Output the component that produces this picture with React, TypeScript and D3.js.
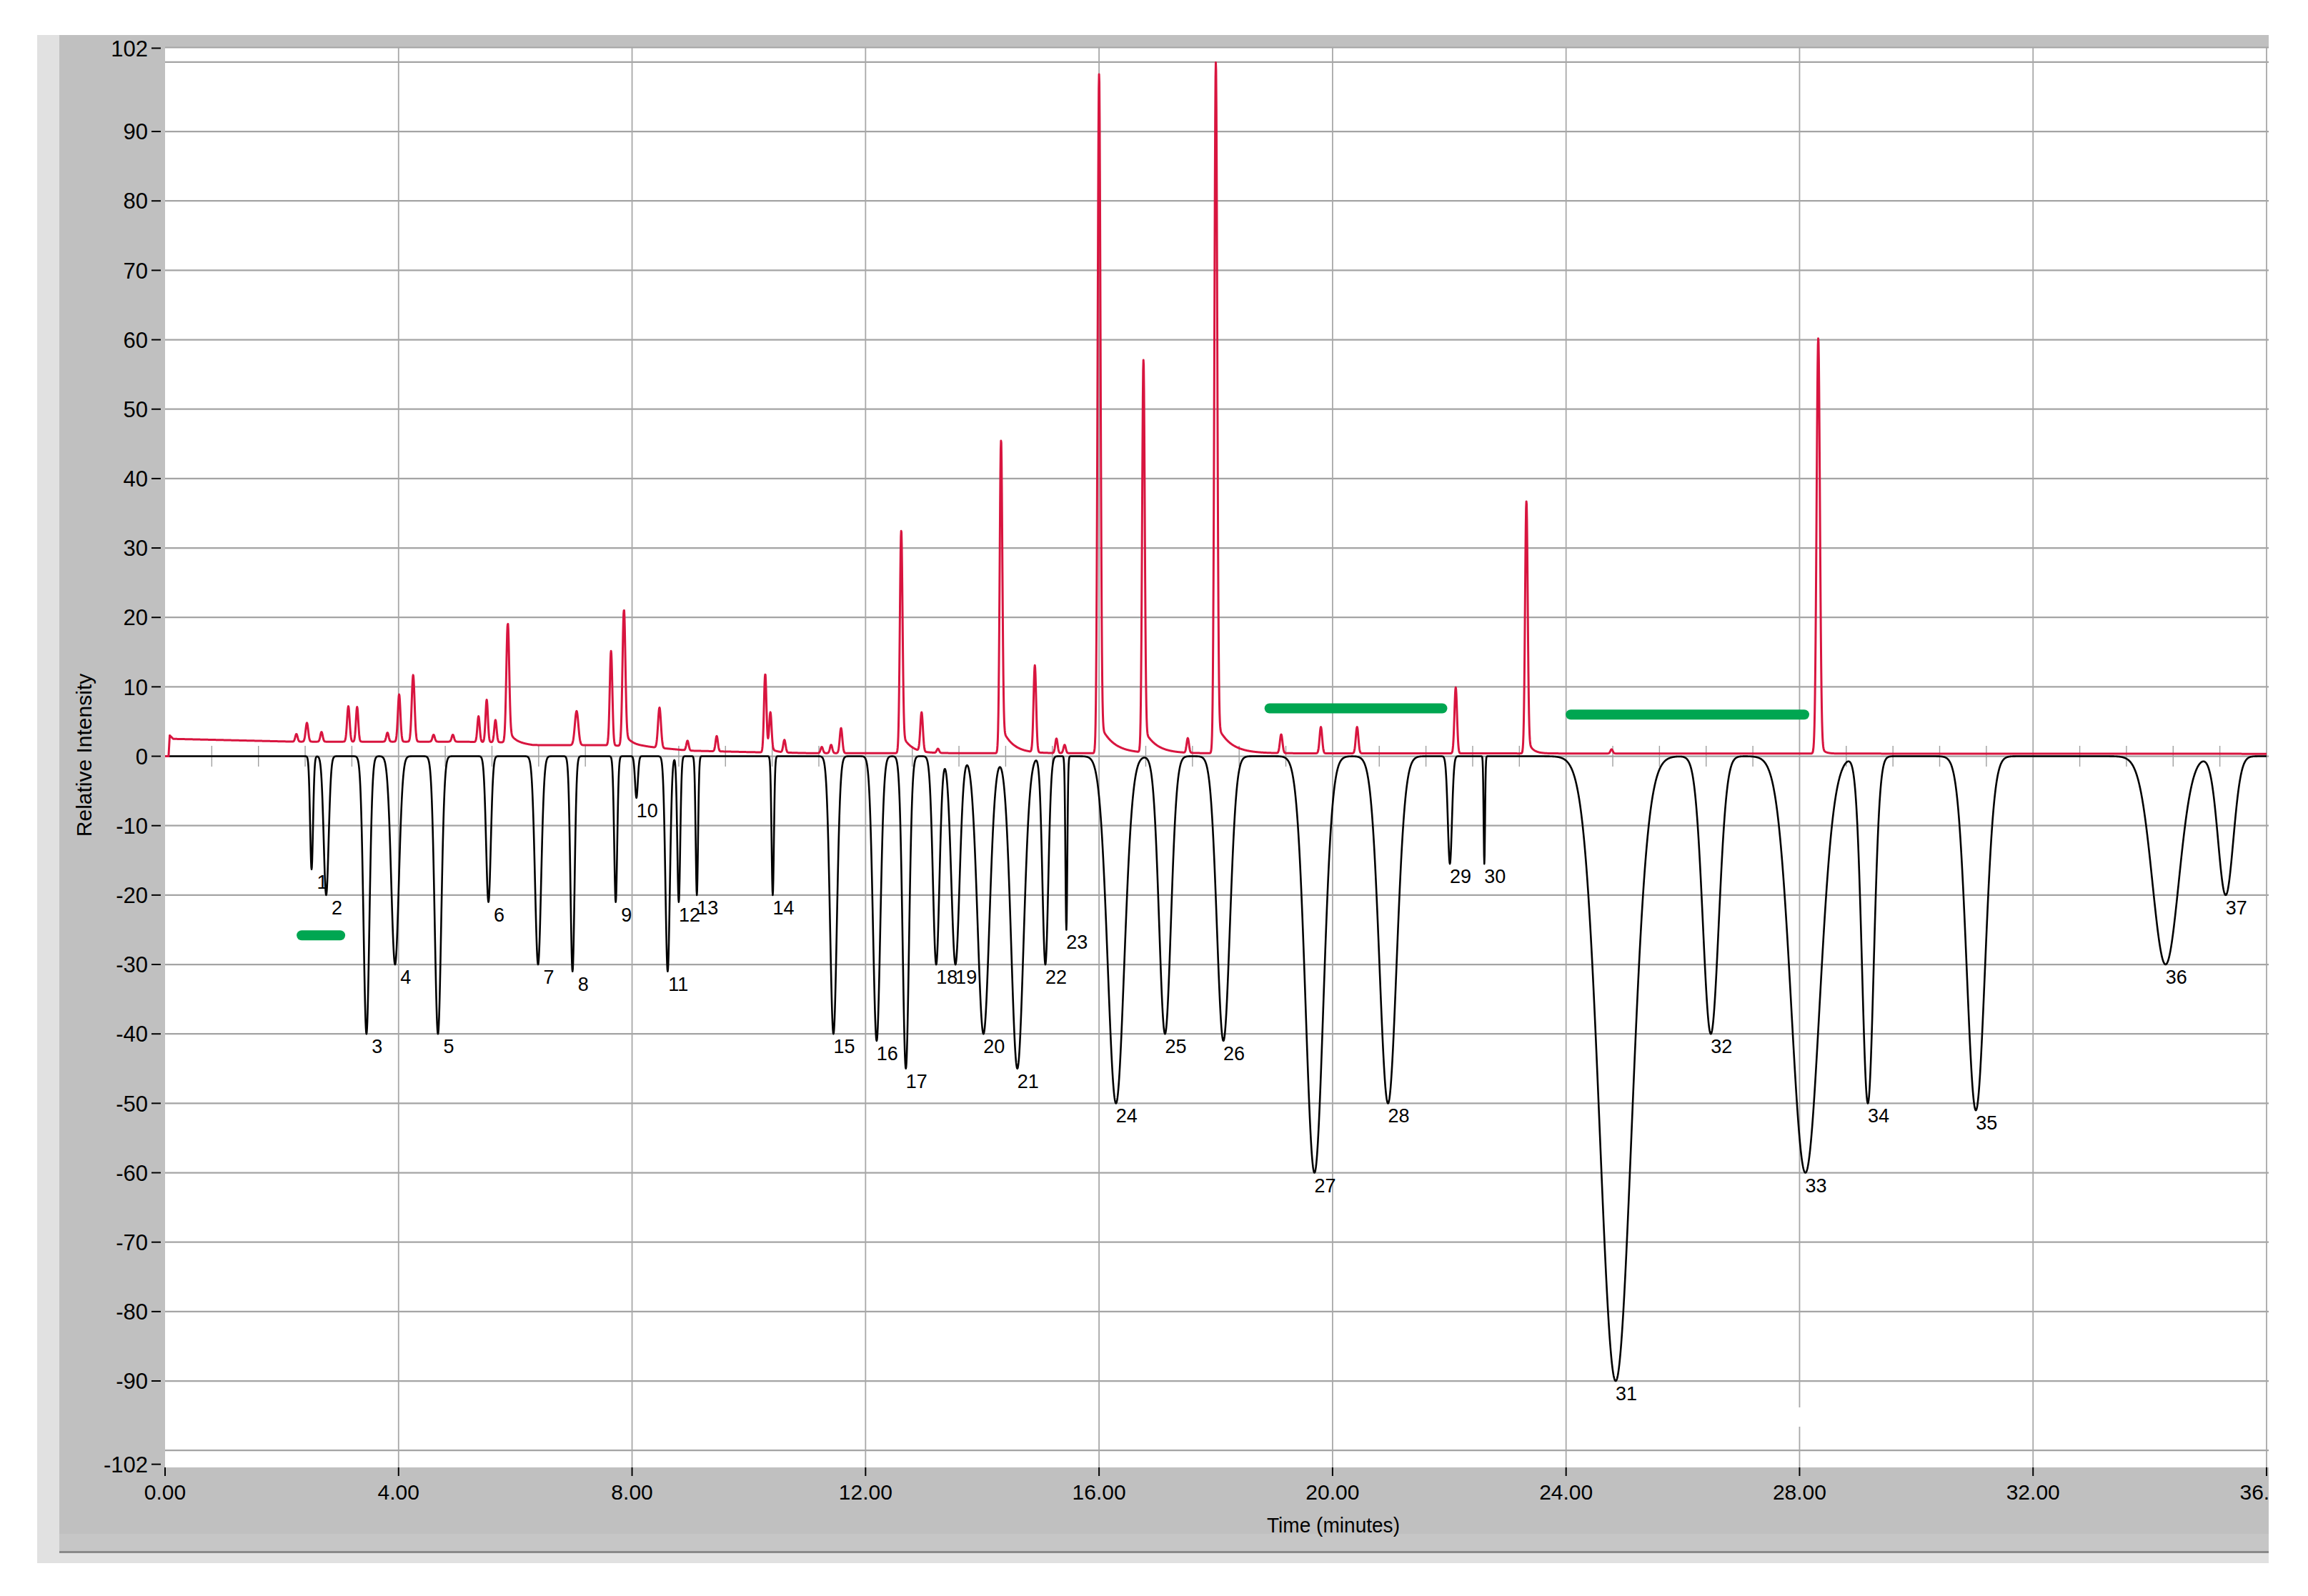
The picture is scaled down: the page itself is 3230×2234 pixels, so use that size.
import * as d3 from 'd3';

// numbered peaks of the lower (black) trace
const peakLabels = ['1', '2', '3', '4', '5', '6', '7', '8', '9', '10', '11', '12', '13', '14', '15', '16', '17', '18', '19',
  '20', '21', '22', '23', '24', '25', '26', '27', '28', '29', '30', '31', '32', '33', '34', '35', '36', '37'];
const peakTimes = [2.51, 2.76, 3.45, 3.94, 4.675, 5.54, 6.39, 6.98, 7.72, 8.075, 8.61, 8.8, 9.11, 10.41, 11.45, 12.19, 12.69,
  13.21, 13.54, 14.02, 14.6, 15.08, 15.44, 16.29, 17.13, 18.13, 19.69, 20.95, 22.01, 22.6, 24.85, 26.48, 28.1, 29.17, 31.02,
  34.27, 35.3];
const peakDepths = [16.3, 20, 40, 30, 40, 21, 30, 31, 21, 6, 31, 21, 20, 20, 40, 41, 45, 30, 30, 40, 45, 30, 25, 50, 40, 41,
  60, 50, 15.5, 15.5, 90, 40, 60, 50, 51, 30, 20];
const peakWidths = [0.025, 0.042, 0.05, 0.065, 0.055, 0.04, 0.052, 0.035, 0.026, 0.024, 0.038, 0.025, 0.02, 0.02, 0.058,
  0.062, 0.054, 0.055, 0.07, 0.1, 0.105, 0.05, 0.016, 0.14, 0.1, 0.11, 0.15, 0.145, 0.035, 0.012, 0.27, 0.135, 0.24, 0.1,
  0.155, 0.225, 0.13];

// upper (red) trace: peaks above its baseline
const redTimes = [2.25, 2.43, 2.68, 3.14, 3.29, 3.81, 4.01, 4.25, 4.6, 4.93, 5.37, 5.51, 5.66, 5.87, 7.05, 7.64, 7.86, 8.47,
  8.95, 9.45, 10.28, 10.37, 10.61, 11.25, 11.41, 11.58, 12.61, 12.96, 13.24, 14.32, 14.9, 15.27, 15.41, 16.0, 16.76, 17.52,
  18.0, 19.12, 19.8, 20.42, 22.11, 23.32, 24.78, 28.32];
const redHeights = [1.1, 2.7, 1.4, 5.1, 5.0, 1.3, 6.8, 9.6, 1.0, 1.0, 3.7, 6.1, 3.2, 17, 4.9, 13.6, 19.5, 5.8, 1.4, 2.2, 11.2,
  5.2, 1.8, 0.9, 1.2, 3.6, 32, 5.6, 0.6, 45, 12.5, 2.1, 1.2, 97.8, 56.5, 2.1, 99.5, 2.7, 3.8, 3.8, 9.5, 36.3, 0.6, 59.8];
const redWidths = [0.02, 0.022, 0.02, 0.022, 0.02, 0.02, 0.022, 0.024, 0.02, 0.02, 0.02, 0.02, 0.02, 0.024, 0.03, 0.022,
  0.024, 0.025, 0.02, 0.02, 0.02, 0.02, 0.02, 0.02, 0.02, 0.022, 0.022, 0.022, 0.02, 0.022, 0.022, 0.02, 0.02, 0.024, 0.022,
  0.02, 0.024, 0.022, 0.022, 0.022, 0.022, 0.022, 0.02, 0.028];
// tailing after the bigger red peaks
const tailTimes = [5.87, 7.86, 10.28, 12.61, 14.32, 16.0, 16.76, 18.0, 23.32, 28.32];
const tailHeights = [2, 2, 1.5, 3, 4, 4.5, 3.5, 4.5, 2.5, 2];
const tailDecays = [0.1, 0.12, 0.1, 0.15, 0.18, 0.22, 0.2, 0.22, 0.08, 0.06];
// red baseline level
const baseTimes = [0, 0.06, 0.08, 0.14, 2.2, 5.0, 5.9, 6.3, 7.5, 8.2, 9.0, 10.0, 11.0, 24.0, 36];
const baseValues = [0, 0, 3.0, 2.5, 2.1, 2.1, 2.0, 1.6, 1.6, 1.4, 0.8, 0.6, 0.45, 0.4, 0.35];

// green marker bars
const barStarts = [2.34, 18.92, 24.08];
const barEnds = [3.0, 21.88, 28.08];
const barLevels = [-25.8, 6.9, 6.0];

// axes
const yTickValues = [102, 90, 80, 70, 60, 50, 40, 30, 20, 10, 0, -10, -20, -30, -40, -50, -60, -70, -80, -90, -102];
const yGridValues = [100, 90, 80, 70, 60, 50, 40, 30, 20, 10, 0, -10, -20, -30, -40, -50, -60, -70, -80, -90, -100];
const xTickValues = [0, 4, 8, 12, 16, 20, 24, 28, 32, 36];

const FONT = 'Liberation Sans, Arial, sans-serif';

const App = () => {
  const x = d3.scaleLinear().domain([0, 36]).range([231, 3172]);
  const y = d3.scaleLinear().domain([-102.45, 102.15]).range([2054, 66]);
  const base = d3.scaleLinear().domain(baseTimes).range(baseValues).clamp(true);

  const gauss = (t, c, s) => Math.exp(-0.5 * ((t - c) / s) ** 2);

  // sample grid, apexes included so the tips are hit exactly
  const times = Array.from(new Set([
    ...d3.range(0, 36.0001, 0.005).map((v) => +v.toFixed(3)),
    ...peakTimes, ...redTimes,
  ])).sort((a, b) => a - b);

  const blackData = times.map((t) => {
    let v = 0;
    peakTimes.forEach((c, i) => { v -= peakDepths[i] * gauss(t, c, peakWidths[i]); });
    return [t, v];
  });

  const redData = times.map((t) => {
    let v = base(t);
    redTimes.forEach((c, i) => { v += redHeights[i] * gauss(t, c, redWidths[i]); });
    tailTimes.forEach((c, i) => {
      const dt = t - c;
      if (dt > 0) v += tailHeights[i] * Math.exp(-dt / tailDecays[i]) * (1 - Math.exp(-dt / 0.02));
    });
    return [t, v];
  });

  const line = d3.line().x((d) => x(d[0])).y((d) => y(d[1]));

  const minorTicks = d3.range(0.8, 36, 0.8).filter((t) => Math.abs(t / 4 - Math.round(t / 4)) > 0.01);
  const fmt = d3.format('.2f');

  return (
    <>
      <style>{'body{margin:0}'}</style>
      <svg width={3230} height={2234} style={{ display: 'block', background: '#fff' }}>
        <defs>
          <clipPath id="chartClip"><rect x={0} y={0} width={3175} height={2234} /></clipPath>
          <clipPath id="plotClip"><rect x={231} y={66} width={2944} height={1988} /></clipPath>
        </defs>
        <g clipPath="url(#chartClip)">
          {/* window frame */}
          <rect x={52} y={49} width={3130} height={2139} fill="#e1e1e1" />
          <rect x={83} y={49} width={3100} height={2122} fill="#c0c0c0" />
          <rect x={83} y={2147} width={3100} height={24} fill="#c6c6c6" />
          <rect x={83} y={2171} width={3100} height={3} fill="#8a8a8a" />
          <rect x={231} y={66} width={2950} height={1988} fill="#fff" />

          {/* grid */}
          {yGridValues.map((v) => (
            <line key={'gy' + v} x1={231} x2={3180} y1={y(v)} y2={y(v)} stroke="#a4a4a4" strokeWidth={2.2} />
          ))}
          <line x1={231} x2={3180} y1={66.5} y2={66.5} stroke="#a4a4a4" strokeWidth={2} />
          {xTickValues.slice(1).map((t) => (
            <line key={'gx' + t} x1={x(t)} x2={x(t)} y1={66} y2={2054} stroke="#a8a8a8" strokeWidth={1.8} />
          ))}
          <rect x={x(28) - 2} y={1970} width={4} height={27} fill="#fff" />

          {/* minor ticks on the zero line */}
          {minorTicks.map((t) => (
            <line key={'mt' + t} x1={x(t)} x2={x(t)} y1={y(1.5)} y2={y(-1.5)} stroke="#a0a0a0" strokeWidth={1.4} />
          ))}

          <g clipPath="url(#plotClip)">
            <path d={line(blackData)} fill="none" stroke="#000" strokeWidth={2.6} strokeLinejoin="round" />
            <path d={line(redData)} fill="none" stroke="#d8153f" strokeWidth={3} strokeLinejoin="round" />
            {barStarts.map((s, i) => (
              <line key={'bar' + i} x1={x(s)} x2={x(barEnds[i])} y1={y(barLevels[i])} y2={y(barLevels[i])}
                stroke="#00a651" strokeWidth={14} strokeLinecap="round" />
            ))}
          </g>

          {/* peak numbers */}
          {peakLabels.map((lab, i) => (
            <text key={'pl' + lab} x={x(peakTimes[i]) + 15} y={y(-peakDepths[i]) + 27} textAnchor="middle"
              fontFamily={FONT} fontSize={27} fill="#000">{lab}</text>
          ))}

          {/* y axis */}
          {yTickValues.map((v) => (
            <g key={'yt' + v}>
              <line x1={212} x2={225} y1={y(v)} y2={y(v)} stroke="#000" strokeWidth={2} />
              <text x={207} y={y(v)} dy="0.36em" textAnchor="end" fontFamily={FONT} fontSize={31} fill="#000">{v}</text>
            </g>
          ))}
          <text transform="translate(128,1057) rotate(-90)" textAnchor="middle" fontFamily={FONT} fontSize={30}
            fill="#000">Relative Intensity</text>

          {/* x axis */}
          {xTickValues.map((t) => (
            <g key={'xt' + t}>
              <line x1={x(t)} x2={x(t)} y1={2054} y2={2066} stroke="#000" strokeWidth={2} />
              <text x={x(t)} y={2099} textAnchor="middle" fontFamily={FONT} fontSize={30} fill="#000">{fmt(t)}</text>
            </g>
          ))}
          <text x={1866} y={2145} textAnchor="middle" fontFamily={FONT} fontSize={30} textLength={186}
            lengthAdjust="spacingAndGlyphs" fill="#000">Time (minutes)</text>
        </g>
      </svg>
    </>
  );
};

export default App;
